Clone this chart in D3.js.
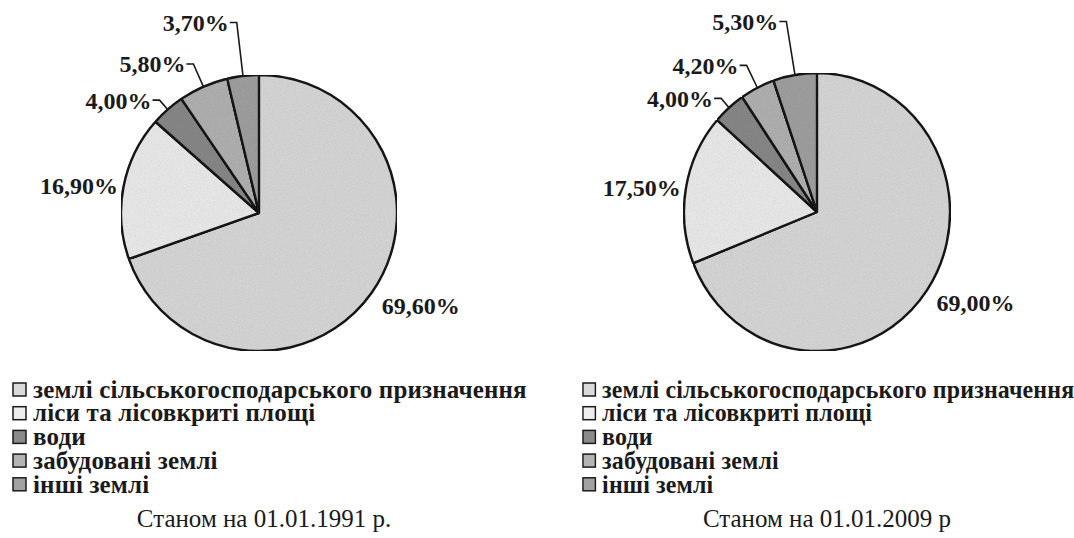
<!DOCTYPE html>
<html>
<head>
<meta charset="utf-8">
<script src="https://cdn.jsdelivr.net/npm/d3@7"></script>
<style>
  body { margin: 0; background: #fff; }
  svg { display: block; }
</style>
</head>
<body>
<svg></svg>
<script>
// -------------------------------------------------------------
const width = 1074;
const height = 538;

// data
const categories = [
  "землі сільськогосподарського призначення",
  "ліси та лісовкриті площі",
  "води",
  "забудовані землі",
  "інші землі"
];
const values1991 = [69.6, 16.9, 4.0, 5.8, 3.7];
const values2009 = [69.0, 17.5, 4.0, 4.2, 5.3];
const captions   = ["Станом на 01.01.1991 р.", "Станом на 01.01.2009 р"];

// look
const colors      = ["#dadada", "#eeeeee", "#8a8a8a", "#b4b4b4", "#a2a2a2"];
const labelRadius = [1.16, 1.04, 1.09, 1.18, 1.39];   // relative to pie radius
const withLeader  = [false, false, true, true, true];
const serif       = '"Liberation Serif", "DejaVu Serif", serif';

// the scanned right half is a little squeezed horizontally
const charts = [
  { values: values1991, caption: captions[0], cx: 259, cy: 213, r: 138, sx: 1,     legendX: 12,  captionX: 264 },
  { values: values2009, caption: captions[1], cx: 817, cy: 212, r: 139, sx: 0.957, legendX: 582, captionX: 827 }
];

const svg = d3.select('svg').attr('width', width).attr('height', height);

// grainy print texture
const defs = svg.append('defs');
const grain = defs.append('filter').attr('id', 'grain').attr('x', 0).attr('y', 0).attr('width', 1).attr('height', 1);
grain.append('feTurbulence').attr('type', 'fractalNoise').attr('baseFrequency', 1.2).attr('numOctaves', 1).attr('seed', 3).attr('result', 'noise');
grain.append('feColorMatrix').attr('in', 'noise').attr('type', 'matrix')
  .attr('values', '0 0 0 0 0  0 0 0 0 0  0 0 0 0 0  0 0 0 0.2 0').attr('result', 'dots');
grain.append('feComposite').attr('in', 'dots').attr('in2', 'SourceGraphic').attr('operator', 'in').attr('result', 'dotsIn');
const merge = grain.append('feMerge');
merge.append('feMergeNode').attr('in', 'SourceGraphic');
merge.append('feMergeNode').attr('in', 'dotsIn');

const locale = d3.formatLocale({ decimal: ",", thousands: " ", grouping: [3], currency: ["", ""] });
const fmt = v => locale.format(".2f")(v) + "%";

const pie = d3.pie().sort(null).value(d => d);

charts.forEach(drawChart);

// -------------------------------------------------------------
function drawChart(c) {
  const arcs = pie(c.values);
  const arc = d3.arc().innerRadius(0).outerRadius(c.r);
  const pt = (a, R) => [c.cx + R * Math.sin(a) * c.sx, c.cy - R * Math.cos(a)];

  // slices
  svg.append('g')
    .attr('transform', `translate(${c.cx},${c.cy}) scale(${c.sx},1)`)
    .selectAll('path')
    .data(arcs)
    .enter().append('path')
    .attr('d', arc)
    .attr('fill', (d, i) => colors[i])
    .attr('filter', 'url(#grain)')
    .attr('stroke', '#1a1a1a')
    .attr('stroke-width', 2.4)
    .attr('stroke-linejoin', 'round')
    .attr('vector-effect', 'non-scaling-stroke');

  // labels
  const g = svg.append('g');
  arcs.forEach((d, i) => {
    const mid = (d.startAngle + d.endAngle) / 2;
    const p = pt(mid, c.r * labelRadius[i]);
    let x = p[0], anchor;
    if (withLeader[i]) {
      const edge = pt(mid, c.r);
      g.append('polyline')
        .attr('points', [edge, p, [p[0] - 7, p[1]]].map(q => q.join(',')).join(' '))
        .attr('fill', 'none')
        .attr('stroke', '#1a1a1a')
        .attr('stroke-width', 1.6);
      x = p[0] - 8;
      anchor = 'end';
    } else {
      anchor = Math.sin(mid) >= 0 ? 'start' : 'end';
      x = anchor === 'start' ? p[0] - 8 : p[0];
    }
    g.append('text')
      .attr('x', x)
      .attr('y', p[1])
      .attr('dy', '0.35em')
      .attr('text-anchor', anchor)
      .style('font-family', serif)
      .style('font-weight', 'bold')
      .style('font-size', '24px')
      .style('fill', '#1a1a1a')
      .text(fmt(d.data));
  });

  // legend
  const legend = svg.append('g').attr('transform', `translate(${c.legendX},389) scale(${c.sx},1)`);
  const items = legend.selectAll('g')
    .data(categories)
    .enter().append('g')
    .attr('transform', (d, i) => `translate(0,${i * 23.7})`);
  items.append('rect')
    .attr('x', 1).attr('y', -6)
    .attr('width', 13).attr('height', 13)
    .attr('fill', (d, i) => colors[i])
    .attr('stroke', '#1a1a1a')
    .attr('stroke-width', 1.5);
  items.append('text')
    .attr('x', 21)
    .attr('dy', '0.35em')
    .style('font-family', serif)
    .style('font-weight', 'bold')
    .style('font-size', '25px')
    .style('letter-spacing', '0.15px')
    .style('fill', '#1a1a1a')
    .text(d => d);

  // caption
  svg.append('text')
    .attr('x', c.captionX)
    .attr('y', 518)
    .attr('dy', '0.35em')
    .attr('text-anchor', 'middle')
    .style('font-family', serif)
    .style('font-size', '25px')
    .style('fill', '#1a1a1a')
    .text(c.caption);
}
</script>
</body>
</html>
